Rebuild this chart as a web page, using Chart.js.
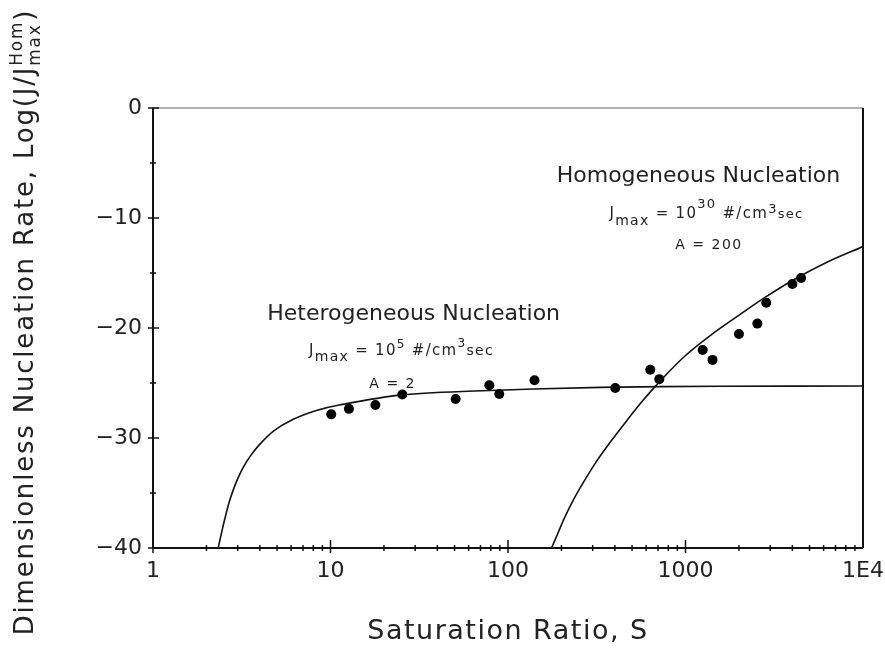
<!DOCTYPE html>
<html>
<head>
<meta charset="utf-8">
<title>Nucleation rate vs saturation ratio</title>
<script src="https://cdn.jsdelivr.net/npm/chart.js@4.4.1/dist/chart.umd.min.js"></script>
<style>
    html, body { margin: 0; padding: 0; background: #fff; }
    #chart { display: block; }
</style>
</head>
<body>
<canvas id="chart" width="885" height="659"></canvas>
<script>
const FONT = "'DejaVu Sans', 'Liberation Sans', sans-serif";

// measured points (saturation ratio S, log of dimensionless rate)
const pointS = [10.1, 12.7, 17.9, 25.4, 50.7, 78.5, 89.3, 141, 402, 633, 712, 1250, 1420, 2000, 2540, 2850, 4000, 4480];
const pointLog = [-27.85, -27.35, -27.0, -26.05, -26.45, -25.2, -26.0, -24.75, -25.45, -23.8, -24.65, -22.0, -22.9, -20.55, -19.6, -17.7, -16.0, -15.45];

// heterogeneous nucleation curve
const heteroS = [2.33, 2.45, 2.57, 2.69, 2.85, 3.02, 3.24, 3.55, 3.98, 4.79, 6.17, 8.32, 11.2, 24.5, 58.9, 331, 1585, 10000];
const heteroLog = [-40, -38.4, -37.0, -35.8, -34.6, -33.6, -32.6, -31.6, -30.6, -29.35, -28.3, -27.5, -27.0, -26.1, -25.75, -25.4, -25.3, -25.27];

// homogeneous nucleation curve
const homoS = [176, 190.5, 209, 234, 269, 316, 380, 468, 575, 741, 1000, 1413, 1995, 2818, 3981, 6310, 10000];
const homoLog = [-40, -38.7, -37.2, -35.6, -33.9, -32.1, -30.3, -28.4, -26.6, -24.6, -22.5, -20.55, -18.85, -17.2, -15.7, -14.0, -12.6];

const xTickValues = [1, 10, 100, 1000, 10000];
const xTickLabels = ["1", "10", "100", "1000", "1E4"];
const yTickValues = [0, -10, -20, -30, -40];
const yTickLabels = ["0", "−10", "−20", "−30", "−40"];

const toXY = (xs, ys) => xs.map((v, i) => ({ x: v, y: ys[i] }));

function drawRich(ctx, parts, cx, baseY, spacing) {
    ctx.letterSpacing = spacing + "px";
    let total = 0;
    parts.forEach((p) => {
        ctx.font = `${p.size}px ${FONT}`;
        p.w = ctx.measureText(p.t).width;
        total += p.w;
    });
    let xx = cx - total / 2;
    parts.forEach((p) => {
        ctx.font = `${p.size}px ${FONT}`;
        ctx.fillText(p.t, xx, baseY + (p.dy || 0));
        xx += p.w;
    });
}

const decorations = {
    id: "decorations",
    afterDraw(chart) {
        const { ctx, chartArea: a, scales: { x, y } } = chart;
        const line = (x1, y1, x2, y2) => {
            ctx.beginPath();
            ctx.moveTo(x1, y1);
            ctx.lineTo(x2, y2);
            ctx.stroke();
        };
        ctx.save();

        // frame
        ctx.lineWidth = 1.2;
        ctx.strokeStyle = "#666";
        line(a.left, a.top, a.right, a.top);
        ctx.lineWidth = 2;
        ctx.strokeStyle = "#111";
        line(a.left, a.top, a.left, a.bottom);
        line(a.left, a.bottom, a.right, a.bottom);
        line(a.right, a.top, a.right, a.bottom);

        // x ticks crossing the axis
        ctx.lineWidth = 1.5;
        for (let d = 0; d < 4; d++) {
            for (let m = 1; m <= 9; m++) {
                const px = x.getPixelForValue(m * Math.pow(10, d));
                if (m === 1) line(px, a.bottom - 8, px, a.bottom + 5);
                else line(px, a.bottom - 3, px, a.bottom + 3);
            }
        }
        // y ticks crossing the axis
        for (let v = -40; v <= 0; v += 5) {
            const py = y.getPixelForValue(v);
            if (v % 10 === 0) line(a.left - 5, py, a.left + 6, py);
            else line(a.left - 3, py, a.left + 3, py);
        }

        // annotations
        ctx.fillStyle = "#222";
        ctx.textAlign = "left";
        ctx.textBaseline = "alphabetic";
        const px = (s) => x.getPixelForValue(s);
        const py = (v) => y.getPixelForValue(v);

        drawRich(ctx, [{ t: "Heterogeneous Nucleation", size: 22 }], px(29.4), py(-19.27), 0);
        drawRich(ctx, [
            { t: "J", size: 15 },
            { t: "max", size: 14, dy: 6 },
            { t: " = 10", size: 15 },
            { t: "5", size: 12, dy: -7 },
            { t: " #/cm", size: 15 },
            { t: "3", size: 12, dy: -8 },
            { t: "sec", size: 14 }
        ], px(25.1), py(-22.45), 1.3);
        drawRich(ctx, [{ t: "A = 2", size: 14 }], px(22.4), py(-25.45), 1.5);

        drawRich(ctx, [{ t: "Homogeneous Nucleation", size: 22 }], px(1183), py(-6.73), 0);
        drawRich(ctx, [
            { t: "J", size: 15 },
            { t: "max", size: 14, dy: 7 },
            { t: " = 10", size: 15 },
            { t: "30", size: 13, dy: -10 },
            { t: " #/cm", size: 15 },
            { t: "3", size: 13, dy: -5 },
            { t: "sec", size: 13 }
        ], px(1313), py(-10), 1.3);
        drawRich(ctx, [{ t: "A = 200", size: 14 }], px(1357), py(-12.8), 1.5);

        // x axis title
        drawRich(ctx, [{ t: "Saturation Ratio, S", size: 27 }], (a.left + a.right) / 2, 639, 1.5);

        // y axis title, rotated, with stacked Hom / max
        ctx.translate(33, 322);
        ctx.rotate(-Math.PI / 2);
        ctx.letterSpacing = "1.8px";
        ctx.font = `26px ${FONT}`;
        const main = "Dimensionless Nucleation Rate, Log(J/J";
        const wMain = ctx.measureText(main).width;
        ctx.font = `17px ${FONT}`;
        const wStack = Math.max(ctx.measureText("Hom").width, ctx.measureText("max").width);
        ctx.font = `26px ${FONT}`;
        const wEnd = ctx.measureText(")").width;
        let xx = -(wMain + wStack + wEnd) / 2;
        ctx.fillText(main, xx, 0);
        xx += wMain;
        ctx.font = `17px ${FONT}`;
        ctx.fillText("Hom", xx, -11);
        ctx.fillText("max", xx, 7);
        xx += wStack;
        ctx.font = `26px ${FONT}`;
        ctx.fillText(")", xx, 0);

        ctx.restore();
    }
};

new Chart(document.getElementById("chart").getContext("2d"), {
    type: "scatter",
    data: {
        datasets: [
            {
                label: "Heterogeneous",
                data: toXY(heteroS, heteroLog),
                showLine: true,
                borderColor: "#111",
                borderWidth: 1.6,
                pointRadius: 0,
                tension: 0.3,
            },
            {
                label: "Homogeneous",
                data: toXY(homoS, homoLog),
                showLine: true,
                borderColor: "#111",
                borderWidth: 1.6,
                pointRadius: 0,
                tension: 0.3,
            },
            {
                label: "Measured",
                data: toXY(pointS, pointLog),
                showLine: false,
                pointRadius: 5,
                pointBackgroundColor: "#000",
                pointBorderColor: "#000",
                pointBorderWidth: 0,
            },
        ],
    },
    options: {
        responsive: false,
        animation: false,
        devicePixelRatio: 1,
        layout: { padding: { top: 108, right: 22, left: 0, bottom: 0 } },
        plugins: {
            legend: { display: false },
            tooltip: { enabled: false },
        },
        scales: {
            x: {
                type: "logarithmic",
                min: 1,
                max: 10000,
                grid: { display: false, drawTicks: false },
                border: { display: false },
                afterBuildTicks: (scale) => {
                    scale.ticks = xTickValues.map((v) => ({ value: v }));
                },
                afterFit: (scale) => {
                    scale.height = 111;
                    scale.paddingLeft = 0;
                    scale.paddingRight = 0;
                },
                ticks: {
                    color: "#222",
                    font: { family: FONT, size: 22 },
                    padding: 10,
                    maxRotation: 0,
                    autoSkip: false,
                    callback: (v) => xTickLabels[xTickValues.indexOf(v)],
                },
            },
            y: {
                min: -40,
                max: 0,
                grid: { display: false, drawTicks: false },
                border: { display: false },
                afterBuildTicks: (scale) => {
                    scale.ticks = yTickValues.map((v) => ({ value: v }));
                },
                afterFit: (scale) => {
                    scale.width = 153;
                },
                ticks: {
                    color: "#222",
                    font: { family: FONT, size: 22 },
                    padding: 11,
                    autoSkip: false,
                    callback: (v) => yTickLabels[yTickValues.indexOf(v)],
                },
            },
        },
    },
    plugins: [decorations],
});
</script>
</body>
</html>
